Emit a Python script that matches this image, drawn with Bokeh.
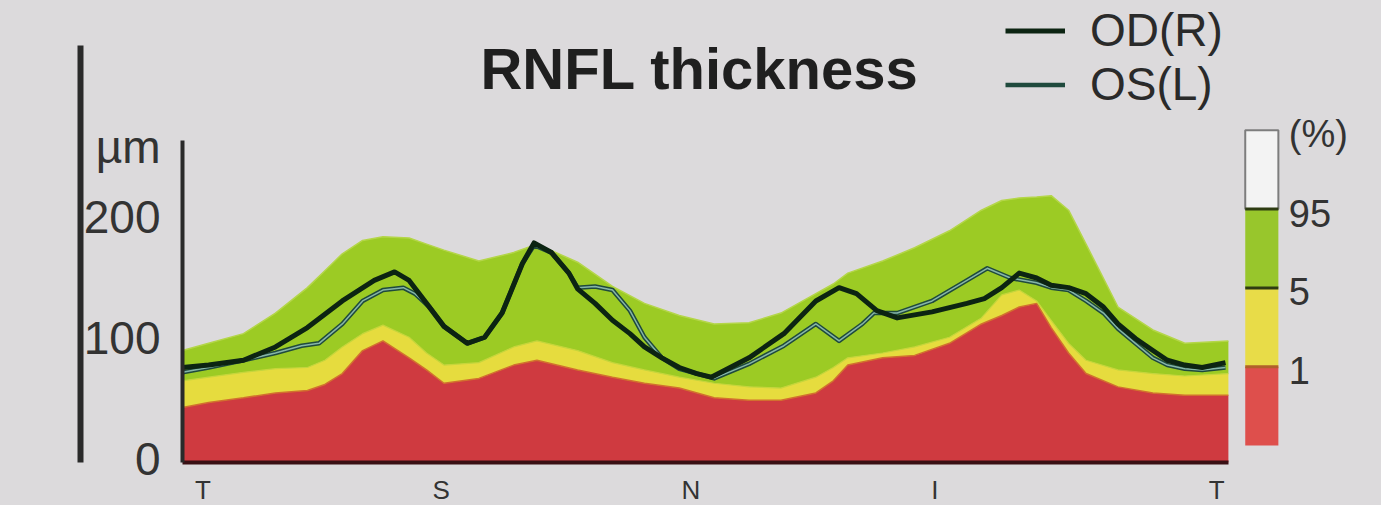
from bokeh.plotting import figure
from bokeh.models import (Range1d, FixedTicker, Label, LinearAxis, Legend, LegendItem,
                          GlobalInlineStyleSheet)
from bokeh.embed import file_html
from bokeh.resources import INLINE
from bokeh.core.properties import value

# ---------------- data ----------------
# normative percentile curves (µm) along TSNIT angle (deg)
NORM_X = [0, 9, 21, 32, 43, 49, 55, 62, 69, 78, 84, 90, 102, 114, 122, 136, 148, 159, 171, 183,
          195, 206, 218, 224, 229, 241, 252, 264, 275, 282, 288, 294, 299, 305, 311, 322, 334, 345, 360]
P95 = [90, 96, 104, 121, 142, 156, 170, 181, 184, 183, 178, 173, 164, 171, 178, 163, 143, 129, 119, 112,
       113, 121, 137, 145, 154, 164, 175, 189, 206, 214, 216, 217, 218, 206, 178, 126, 107, 96, 98]
P5 = [65, 68, 72, 75, 76, 82, 93, 104, 111, 101, 88, 78, 80, 93, 98, 90, 80, 74, 68, 63,
      60, 59, 68, 76, 84, 88, 93, 101, 117, 136, 140, 131, 115, 96, 82, 74, 71, 69, 71]
P1 = [43, 47, 51, 55, 57, 62, 71, 90, 98, 84, 74, 63, 67, 78, 82, 74, 68, 63, 59, 51,
      49, 49, 55, 65, 78, 84, 86, 96, 112, 119, 126, 129, 109, 88, 71, 60, 55, 53, 53]

OD_X = [0, 9, 21, 32, 43, 55, 66, 73, 78, 84, 90, 98, 104, 110, 117, 121, 127, 133, 136, 142,
        148, 154, 159, 165, 171, 177, 182, 195, 207, 218, 226, 232, 239, 246, 258, 270, 276, 282,
        288, 294, 299, 305, 311, 317, 322, 328, 334, 339, 345, 351, 359]
OD_Y = [76, 78, 82, 93, 109, 131, 148, 155, 148, 129, 110, 96, 101, 121, 162, 179, 171, 154, 141, 129,
        115, 104, 93, 84, 76, 71, 68, 84, 104, 131, 142, 137, 123, 117, 122, 129, 133, 142,
        154, 150, 144, 142, 137, 126, 112, 100, 90, 82, 78, 76, 80]

OS_X = [0, 9, 21, 32, 41, 47, 55, 62, 69, 76, 80, 85, 90, 98, 104, 110, 117, 121, 127, 133,
        136, 142, 148, 154, 159, 165, 171, 183, 195, 207, 218, 226, 234, 238, 246, 258, 270, 277,
        285, 294, 299, 305, 311, 317, 322, 328, 334, 339, 345, 351, 359]
OS_Y = [72, 76, 82, 88, 94, 96, 112, 131, 140, 142, 137, 126, 110, 96, 101, 121, 162, 177, 171, 154,
        142, 143, 140, 123, 101, 84, 75, 67, 79, 94, 112, 98, 112, 121, 121, 131, 148, 158,
        150, 146, 142, 140, 131, 121, 108, 96, 84, 78, 75, 74, 76]

X_TICKS = [7, 89, 175, 259, 356]
X_LABELS = ["T", "S", "N", "I", "T"]
Y_TICKS = [0, 100, 200]
UNIT = "µm"
SERIES = ["OD(R)", "OS(L)"]
CB_LABELS = ["1", "5", "95", "(%)"]
CB_COLORS = ["#de4f4c", "#e8dc48", "#98c62c", "#f3f3f3"]

# ---------------- style / layout constants ----------------
BG = "#dcdadc"
FONT = "Liberation Sans"
TXT = "#333333"
RED, YEL, GRN = "#cf3a40", "#e6dc3e", "#9ccb24"
XMIN, XMAX = 0, 412.7          # frame spans page x 182..1381 (angle 0..360 -> 182..1228)
YMIN, YMAX = -2.5, 379.3       # frame spans page y 0..462 (0 µm at y=459)
AXIS_TOP = 263.6               # y-axis rule ends here
UNIT_AT = 258                  # position of the unit label on the y axis
TITLE_X, TITLE_Y = 178, 323.0
KEY_L, KEY_R, KEY_TXT = 365.8, 377.2, 380.8
KEY_BOTTOM, KEY_STEP = 11.6, 65.1

p = figure(frame_width=1199, frame_height=462,
           x_range=Range1d(XMIN, XMAX), y_range=Range1d(YMIN, YMAX),
           min_border_left=182, min_border_right=0, min_border_top=0, min_border_bottom=0,
           output_backend="svg", toolbar_location=None)
p.background_fill_color = BG
p.border_fill_color = BG
p.outline_line_color = None
p.grid.visible = False

# percentile bands
p.varea(x=NORM_X, y1=YMIN, y2=P1, fill_color=RED)
p.varea(x=NORM_X, y1=P1, y2=P5, fill_color=YEL)
p.varea(x=NORM_X, y1=P5, y2=P95, fill_color=GRN)
p.line(NORM_X, P1, line_color="#d2702e", line_width=1.5)
p.line(NORM_X, P5, line_color="#c6d63a", line_width=1.2)
p.line(NORM_X, P95, line_color="#b4d648", line_width=1.5)

# measured curves
os_r = p.line(OS_X, OS_Y, line_color="#1f4a3d", line_width=4.5, line_join="round")
p.line(OS_X, OS_Y, line_color="#86b5a8", line_width=1.5, line_join="round")
od_r = p.line(OD_X, OD_Y, line_color="#0c2412", line_width=5, line_join="round")

# y axis
yax = p.yaxis[0]
yax.ticker = FixedTicker(ticks=Y_TICKS + [UNIT_AT])
yax.major_label_overrides = {UNIT_AT: UNIT}
yax.bounds = (YMIN, AXIS_TOP)
yax.minor_tick_line_color = None
yax.major_tick_line_color = None
yax.major_tick_out = 0
yax.major_tick_in = 0
yax.axis_line_width = 4
yax.axis_line_color = "#2a2a2a"
yax.major_label_text_font = FONT
yax.major_label_text_font_size = "46px"
yax.major_label_text_color = TXT
yax.major_label_standoff = 22

# decorative report divider (outer left rule)
deco = LinearAxis(ticker=FixedTicker(ticks=[]), bounds=(-7.4, 342),
                  axis_line_width=6, axis_line_color="#2a2a2a",
                  major_tick_line_color=None, minor_tick_line_color=None,
                  major_label_text_font_size="0px")
p.add_layout(deco, "left")

# x axis
xax = p.xaxis[0]
xax.ticker = FixedTicker(ticks=X_TICKS)
xax.major_label_overrides = {t: s for t, s in zip(X_TICKS, X_LABELS)}
xax.bounds = (0, 360)
xax.minor_tick_line_color = None
xax.major_tick_line_color = None
xax.major_tick_out = 0
xax.major_tick_in = 0
xax.axis_line_width = 4
xax.axis_line_color = "#3a1014"
xax.major_label_text_font = FONT
xax.major_label_text_font_size = "26px"
xax.major_label_text_color = TXT
xax.major_label_standoff = 12

# title
p.add_layout(Label(x=TITLE_X, y=TITLE_Y, text="RNFL thickness", text_align="center",
                   text_baseline="alphabetic", text_font=FONT, text_font_style="bold",
                   text_font_size="58px", text_color="#1f1f1f"))

# legend
legend = Legend(items=[LegendItem(label=SERIES[0], renderers=[od_r]),
                       LegendItem(label=SERIES[1], renderers=[os_r])],
                location=(823, 351), orientation="vertical",
                background_fill_alpha=0, border_line_alpha=0, padding=0, margin=0, spacing=0,
                glyph_width=60, glyph_height=53, label_height=53, label_standoff=25,
                label_text_font=FONT, label_text_font_size="46px", label_text_color="#2a2a2a")
p.add_layout(legend)

# percentile colour key
n = len(CB_LABELS)
bots = [KEY_BOTTOM + KEY_STEP * i for i in range(n)]
tops = [b + KEY_STEP for b in bots]
p.quad(left=KEY_L, right=KEY_R, bottom=bots, top=tops, fill_color=CB_COLORS, line_color=None)
p.quad(left=KEY_L, right=KEY_R, bottom=bots[-1], top=tops[-1], fill_color=None,
       line_color="#7d7d7d", line_width=2)
p.segment(x0=KEY_L, x1=KEY_R, y0=bots[1:], y1=bots[1:],
          line_color=["#b0602a", "#2e3c12", "#2e3c12"], line_width=3)
p.text(x=KEY_TXT, y=tops, text=CB_LABELS, text_align="left", text_baseline="middle",
       y_offset=4, text_font=value(FONT), text_font_size=value("38px"), text_color=TXT)

p.stylesheets = [GlobalInlineStyleSheet(
    css="html, body { margin: 0; padding: 0; overflow: hidden; background-color: #dcdadc; }")]

open("out.html", "w").write(file_html(p, INLINE))
